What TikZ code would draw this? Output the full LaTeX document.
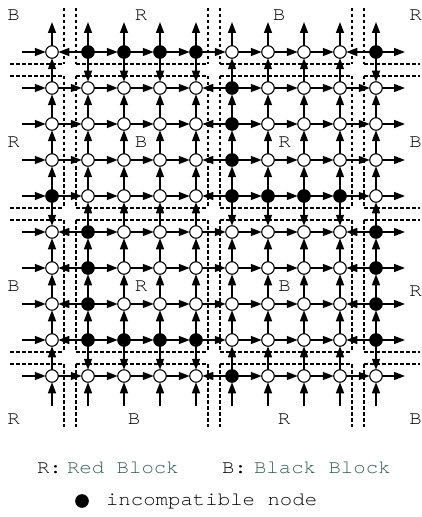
\documentclass[tikz,border=0pt]{standalone}
\usepackage{fontspec}
\newfontfamily\curfont{TeX Gyre Cursor}[FakeStretch=1.09]
\usetikzlibrary{arrows.meta}
\definecolor{legendteal}{RGB}{52,92,82}
\begin{document}
\begin{tikzpicture}[x=1bp,y=-1bp,
  gnode/.style={circle,draw=black,line width=1.1bp,minimum size=12.5bp,inner sep=0pt,outer sep=0pt},
  whitenode/.style={gnode,fill=white},
  blacknode/.style={gnode,fill=black},
  arr/.style={line width=1.5bp,-{Triangle[length=11bp,width=8bp]}},
  dsh/.style={line width=1.2bp,dash pattern=on 3.5bp off 2.5bp},
  lbl/.style={font=\curfont\fontsize{19bp}{22bp}\selectfont,inner sep=0pt,outer sep=0pt},
]
\useasboundingbox (0,0) rectangle (421,517);
% flags
\foreach \i/\j in {1/0,2/0,3/0,4/0,9/0,5/1,5/2,5/3,0/4,5/4,6/4,7/4,8/4,1/5,9/5,1/6,9/6,1/7,9/7,1/8,2/8,3/8,4/8,9/8,5/9}
  {\expandafter\gdef\csname blk-\i-\j\endcsname{}}
\foreach \i/\j in {0/0,8/0,4/1,4/2,4/3,4/4,0/5,8/5,0/6,8/6,0/7,8/7,0/8,8/8,4/9}
  {\expandafter\gdef\csname hl-\i-\j\endcsname{}}
\foreach \i/\j in {1/0,2/0,3/0,4/0,9/0,0/4,5/4,6/4,7/4,8/4,1/8,2/8,3/8,4/8,9/8}
  {\expandafter\gdef\csname vd-\i-\j\endcsname{}}
% dashed block borders
\foreach \x in {64,76,208,220,352,364}{
  \foreach \a/\b in {8/64,76/208,220/352,364/427}{
    \draw[dsh] (\x,\a) -- (\x,\b);
  }
}
\foreach \y in {64,76,208,220,352,364}{
  \foreach \a/\b in {10/64,76/208,220/352,364/420}{
    \draw[dsh] (\a,\y) -- (\b,\y);
  }
}
% nodes
\foreach \i in {0,...,9}{
  \foreach \j in {0,...,9}{
    \ifcsname blk-\i-\j\endcsname
      \tikzset{curnode/.style={blacknode}}
    \else
      \tikzset{curnode/.style={whitenode}}
    \fi
    \node[curnode] (n-\i-\j) at ({52+36*\i},{52+36*\j}) {};
  }
}
% horizontal edges
\foreach \i in {0,...,8}{
  \foreach \j in {0,...,9}{
    \pgfmathtruncatemacro\ii{\i+1}
    \ifcsname hl-\i-\j\endcsname
      \draw[arr] (n-\ii-\j) -- (n-\i-\j);
    \else
      \draw[arr] (n-\i-\j) -- (n-\ii-\j);
    \fi
  }
}
% vertical edges
\foreach \i in {0,...,9}{
  \foreach \j in {0,...,8}{
    \pgfmathtruncatemacro\jj{\j+1}
    \ifcsname vd-\i-\j\endcsname
      \draw[arr] (n-\i-\j) -- (n-\i-\jj);
    \else
      \draw[arr] (n-\i-\jj) -- (n-\i-\j);
    \fi
  }
}
% stubs
\foreach \k in {0,...,9}{
  \coordinate (lft-\k) at (22,{52+36*\k});
  \coordinate (rgt-\k) at (405,{52+36*\k});
  \coordinate (top-\k) at ({52+36*\k},22);
  \coordinate (bot-\k) at ({52+36*\k},406);
  \draw[arr] (lft-\k) -- (n-0-\k);
  \draw[arr] (n-9-\k) -- (rgt-\k);
  \draw[arr] (n-\k-0) -- (top-\k);
  \draw[arr] (bot-\k) -- (n-\k-9);
}
% block labels
\node[lbl] (lb00) at (13.5,15) {B};
\node[lbl] (lb10) at (141,15) {R};
\node[lbl] (lb20) at (279,15) {B};
\node[lbl] (lb30) at (415.5,15) {R};
\node[lbl] (lb01) at (13.5,142) {R};
\node[lbl] (lb11) at (141,142) {B};
\node[lbl] (lb21) at (284.5,142) {R};
\node[lbl] (lb31) at (415.5,142) {B};
\node[lbl] (lb02) at (13.5,286) {B};
\node[lbl] (lb12) at (141,286) {R};
\node[lbl] (lb22) at (284.5,286) {B};
\node[lbl] (lb32) at (415.5,291) {R};
\node[lbl] (lb03) at (13.5,419) {R};
\node[lbl] (lb13) at (134,419) {B};
\node[lbl] (lb23) at (284,419) {R};
\node[lbl] (lb33) at (415.5,419) {B};
% legend
\node[lbl,anchor=base west] (lgR) at (37,473) {R:};
\node[lbl,anchor=base west,text=legendteal] (lgRed) at (67,473) {Red Block};
\node[lbl,anchor=base west] (lgB) at (222,473) {B:};
\node[lbl,anchor=base west,text=legendteal] (lgBlack) at (254,473) {Black Block};
\node[blacknode] (lgDot) at (82,501) {};
\node[lbl,anchor=base west] (lgInc) at (106,505) {incompatible node};
\end{tikzpicture}
\end{document}
